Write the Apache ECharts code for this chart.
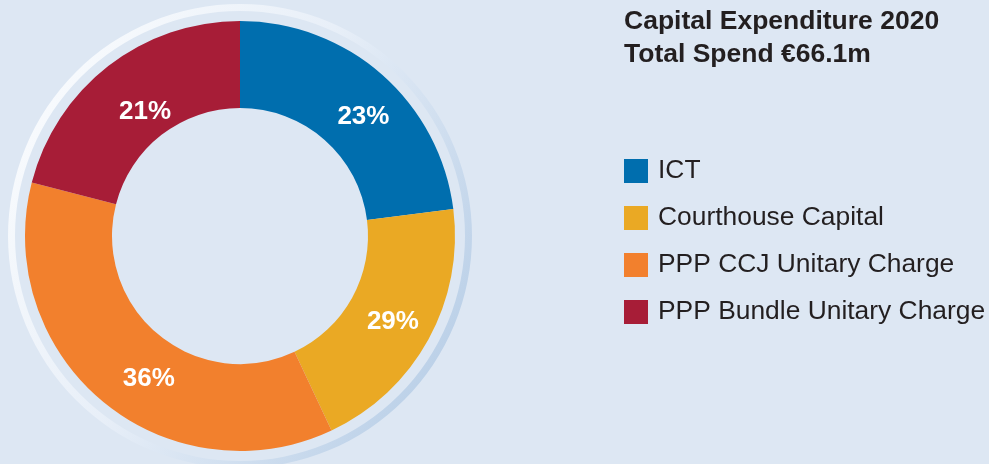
<!DOCTYPE html>
<html>
<head>
<meta charset="utf-8">
<script src="https://cdn.jsdelivr.net/npm/echarts@6/dist/echarts.min.js"></script>
<style>
  html, body { margin: 0; padding: 0; background: #dde7f3; }
  #chart { width: 989px; height: 464px; }
</style>
</head>
<body>
<div id="chart"></div>
<script>
// categories and shares (slice sizes)
var categories = ['ICT', 'Courthouse Capital', 'PPP CCJ Unitary Charge', 'PPP Bundle Unitary Charge'];
var values = [23, 20, 36, 21];
// printed labels, as they appear on the chart
var labels = ['23%', '29%', '36%', '21%'];
var colors = ['#006eae', '#eaa924', '#f2802d', '#a71d37'];
// small hand nudges of the labels, like the original layout
var labelNudge = [[8, 12], [0, 2], [20, 8], [12, 14]];

var FONT = "Arial, 'Liberation Sans', Helvetica, sans-serif";

var chart = echarts.init(document.getElementById('chart'), null, { renderer: 'canvas' });

var option = {
  backgroundColor: '#dde7f3',
  animation: false,
  title: {
    text: 'Capital Expenditure 2020\nTotal Spend €66.1m',
    left: 624,
    top: 5,
    padding: 0,
    textStyle: {
      fontFamily: FONT,
      fontSize: 26.5,
      fontWeight: 'bold',
      lineHeight: 33,
      color: '#231f20'
    }
  },
  legend: {
    orient: 'vertical',
    left: 624,
    top: 158,
    padding: 0,
    itemWidth: 24,
    itemHeight: 24,
    itemGap: 21,
    icon: 'rect',
    selectedMode: false,
    data: categories,
    textStyle: {
      fontFamily: FONT,
      fontSize: 26.4,
      lineHeight: 24,
      color: '#231f20',
      padding: [0, 0, 0, 5]
    }
  },
  series: [
    {
      // decorative outer ring
      type: 'pie',
      silent: true,
      center: [240, 236],
      radius: [225, 232],
      label: { show: false },
      labelLine: { show: false },
      itemStyle: {
        color: {
          type: 'linear', x: 0, y: 0.2, x2: 1, y2: 0.8,
          colorStops: [
            { offset: 0, color: '#fafcfe' },
            { offset: 0.45, color: '#e8eff8' },
            { offset: 1, color: '#b6cde6' }
          ]
        }
      },
      data: [{ value: 1, name: 'ring' }]
    },
    {
      type: 'pie',
      center: [240, 236],
      radius: [128, 215],
      startAngle: 90,
      clockwise: true,
      silent: true,
      itemStyle: { borderWidth: 0 },
      label: {
        show: true,
        position: 'inside',
        formatter: function (p) { return labels[p.dataIndex]; },
        fontFamily: FONT,
        fontSize: 26,
        fontWeight: 'bold',
        color: '#ffffff'
      },
      labelLine: { show: false },
      data: categories.map(function (c, i) {
        return {
          name: c,
          value: values[i],
          itemStyle: { color: colors[i] },
          label: { offset: labelNudge[i] }
        };
      })
    }
  ]
};

chart.setOption(option);
</script>
</body>
</html>
